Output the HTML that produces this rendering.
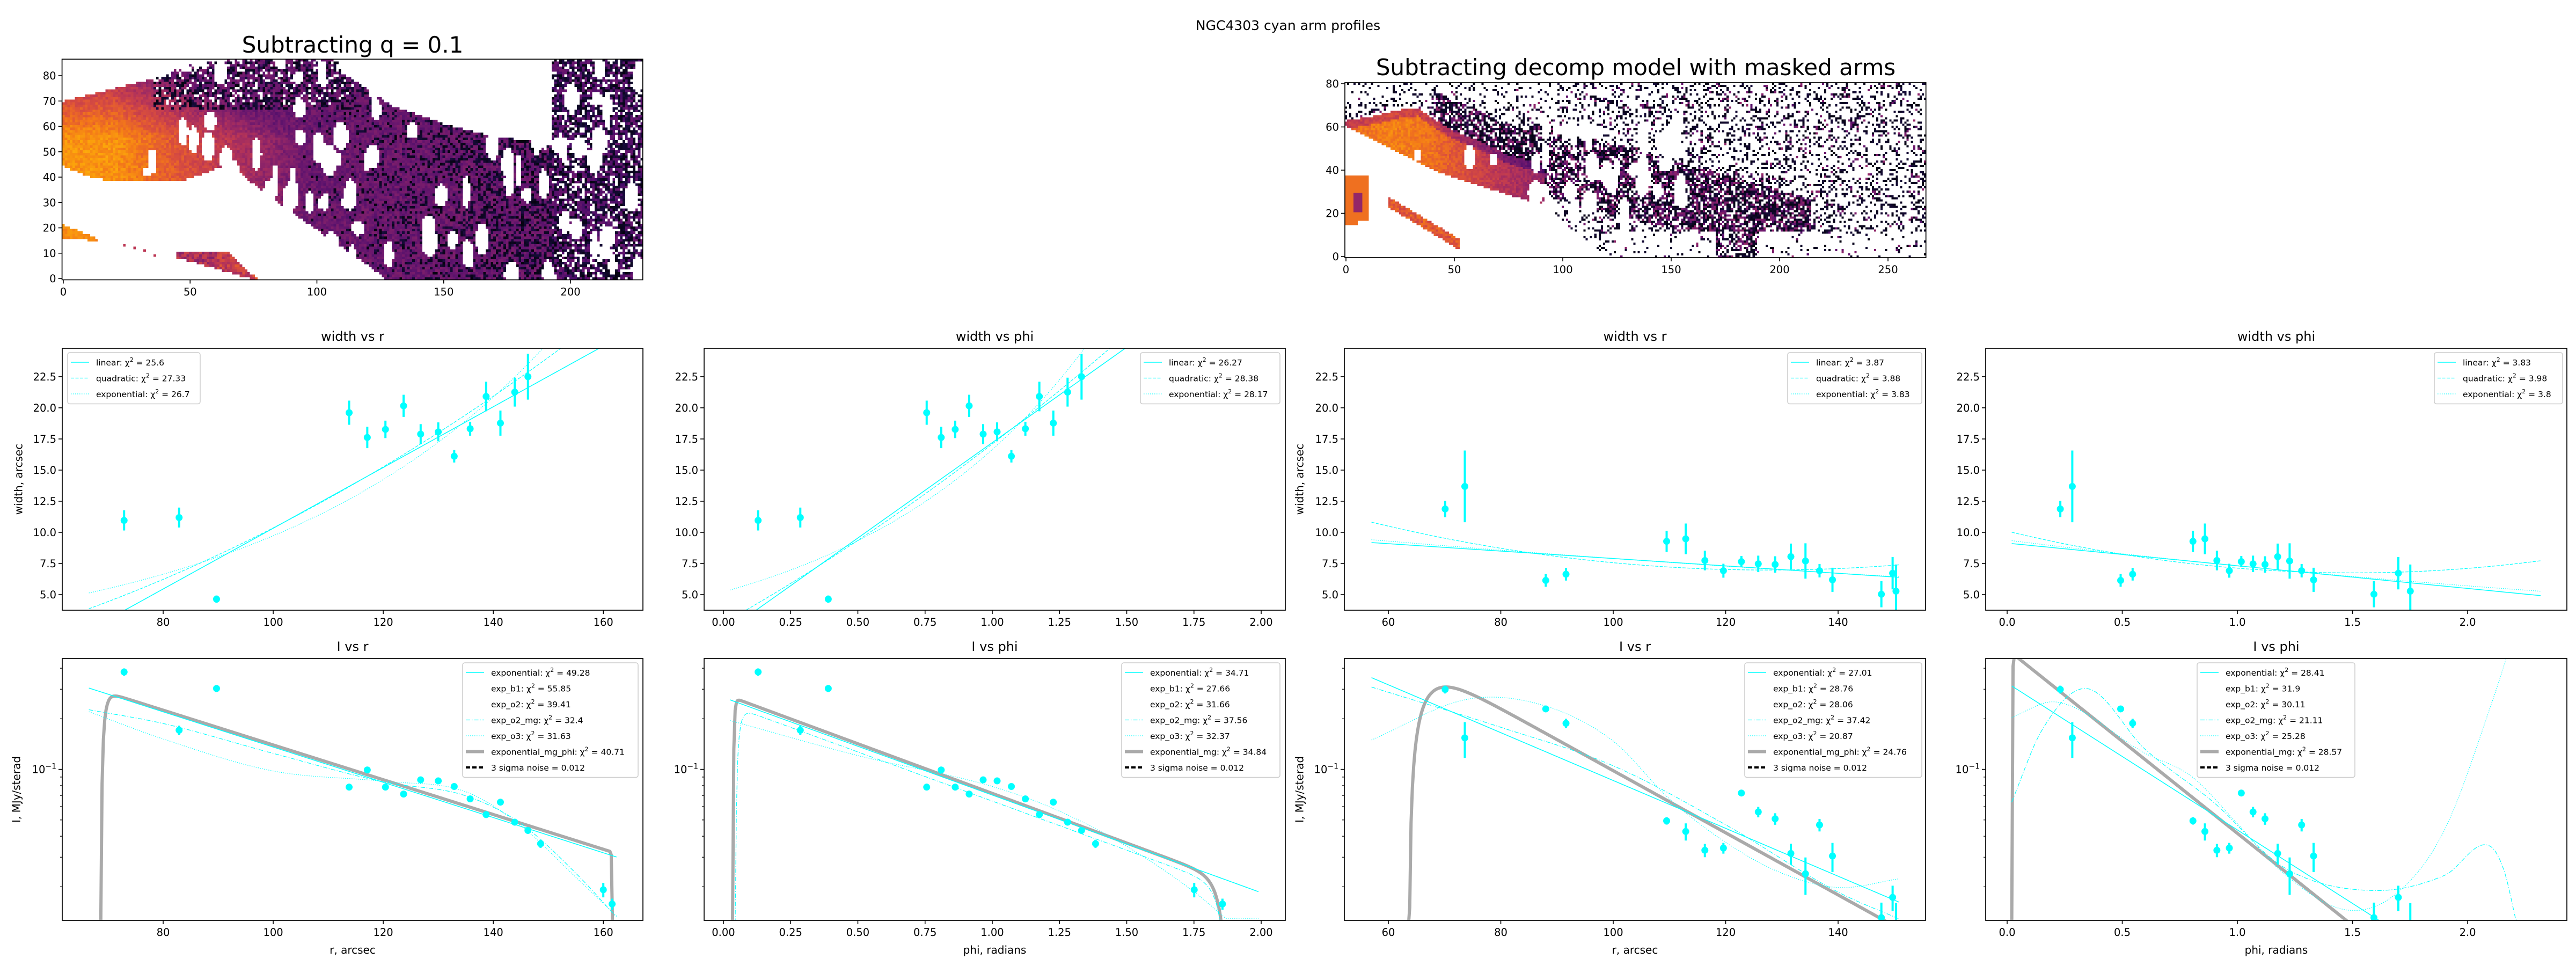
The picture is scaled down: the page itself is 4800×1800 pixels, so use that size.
<!DOCTYPE html>
<html><head><meta charset="utf-8">
<style>
html{margin:0;width:4800px;height:1800px;overflow:hidden}
body{margin:0;background:#fff;width:4800px;height:1800px;overflow:hidden;position:relative;font-family:"DejaVu Sans","Liberation Sans",sans-serif}
canvas{position:absolute;image-rendering:pixelated}
svg{position:absolute;left:0;top:0;overflow:hidden}
</style></head>
<body>
<canvas id="img1" width="229" height="87" style="left:115.6px;top:110.3px;width:1082.1px;height:411.1px"></canvas>
<canvas id="img2" width="268" height="81" style="left:2506px;top:154px;width:1082.7px;height:326px"></canvas>
<svg id="fig" width="4800" height="1800" viewBox="0 0 4800 1800" xmlns="http://www.w3.org/2000/svg">
<text x="2400" y="56" text-anchor="middle" font-size="25">NGC4303 cyan arm profiles</text>
<text x="657" y="98" text-anchor="middle" font-size="42">Subtracting q = 0.1</text>
<text x="3048" y="140" text-anchor="middle" font-size="42">Subtracting decomp model with masked arms</text>
</svg>
<script>
// ---------------- DATA ----------------
const widthR_L = [72.9,82.9,89.7,113.8,117.1,120.4,123.7,126.8,130.0,132.9,135.8,138.7,141.3,143.9,146.3];
const widthPhi_L = [0.129,0.286,0.390,0.756,0.810,0.862,0.914,0.966,1.018,1.071,1.123,1.175,1.227,1.280,1.332];
const width_L = [10.96,11.19,4.64,19.61,17.62,18.27,20.16,17.89,18.07,16.11,18.32,20.91,18.77,21.26,22.5];
const widthErr_L = [0.81,0.8,0.29,0.97,0.86,0.7,0.89,0.8,0.76,0.5,0.56,1.19,1.01,1.16,1.84];
const intR_L = [72.9,82.9,89.7,113.8,117.1,120.4,123.7,126.8,130.0,132.9,135.8,138.7,141.3,143.9,146.3,148.6,160.0,161.6];
const intPhi_L = [0.129,0.286,0.390,0.756,0.810,0.862,0.914,0.966,1.018,1.071,1.123,1.175,1.227,1.280,1.332,1.384,1.751,1.856];
const int_L = [0.380,0.171,0.303,0.0784,0.0992,0.0784,0.0713,0.0866,0.0854,0.0791,0.0667,0.0538,0.0638,0.0485,0.0433,0.0361,0.0192,0.0158];
const intErr_L = [0.019,0.011,0.014,0.002,0.003,0.002,0.002,0.002,0.002,0.002,0.002,0.002,0.002,0.002,0.002,0.002,0.0019,0.0012];
const r_R = [70.1,73.6,88.0,91.6,109.5,112.9,116.3,119.6,122.8,125.8,128.8,131.6,134.2,136.7,139.0,147.7,149.7,150.3];
const phi_R = [0.231,0.283,0.493,0.545,0.807,0.859,0.911,0.965,1.017,1.068,1.120,1.175,1.227,1.279,1.331,1.593,1.699,1.751];
const width_R = [11.88,13.69,6.14,6.64,9.28,9.48,7.74,6.92,7.65,7.47,7.42,8.05,7.70,6.92,6.19,5.03,6.72,5.28];
const widthErr_R = [0.66,2.88,0.51,0.51,0.85,1.23,0.79,0.56,0.45,0.66,0.66,1.05,1.42,0.54,0.97,1.05,1.30,2.14];
const int_R = [0.299,0.154,0.229,0.188,0.0494,0.0427,0.0330,0.0340,0.0723,0.0558,0.0508,0.0316,0.0239,0.0467,0.0305,0.0131,0.0173,0.0110];
const intErr_R = [0.016,0.037,0.01,0.012,0.0025,0.005,0.003,0.0025,0.003,0.004,0.004,0.0045,0.006,0.004,0.006,0.003,0.003,0.005];
const linA=[-14.06,0.2439], quadA=[18.0,0.2833,0.000956], quadA_c=[130], expA=[1.443,0.01908];
const linB=[1.886,15.32], quadB=[17.1,16.6,2.216], quadB_c=[1.0], expB=[5.22,1.160];
const linC=[10.875,-0.02974], quadC=[6.98,-0.0040,0.000771], quadC_c=[125], expC=[11.86,-0.00406];
const linD=[9.136,-1.82], quadD=[6.75,0.132,1.478], quadD_c=[1.55], expD=[9.38,-0.2487];
const iexpE=[1.519,-0.02415], mgE=[1.514,-0.02383,68.7,0.6,161.6,0.05];
const o2mgE_x=[66.5,80,100,120,135,145,155,162.5], o2mgE_v=[0.2265,0.1875,0.1245,0.0842,0.0696,0.0476,0.0241,0.0131];
const o3E_x=[66.5,80,100,120,135,145,155,162.5], o3E_v=[0.2203,0.1517,0.0978,0.0849,0.0736,0.0462,0.0228,0.0133];
const iexpF=[0.268,-1.338], mgF=[0.2805,-1.361,0.036,0.004,1.875,0.03], o2mgF=[0.249,-1.347,0.045,0.012,1.875,0.03];
const o3F_x=[0.024,0.5,1.0,1.25,1.5,1.75,1.87], o3F_v=[0.1954,0.1208,0.0791,0.0564,0.0348,0.0187,0.0129];
const iexpG=[2.279,-0.03279], mgG=[6.934,-0.04257,63.7,3.0,999,1];
const o2mgG_x=[57,80,100,120,140,150.8], o2mgG_v=[0.309,0.178,0.105,0.0468,0.0186,0.0129];
const o3G_x=[57,74.5,88,100,110,120,130,140,150.8], o3G_v=[0.1496,0.263,0.238,0.1472,0.0667,0.0368,0.0241,0.0198,0.0223];
const iexpH=[0.3266,-2.014], mgH=[0.5188,-2.523,0.022,0.002,999,1];
const o2mgH_x=[0.02,0.15,0.341,0.6,0.9,1.2,1.593,1.9,2.099,2.16,2.21], o2mgH_v=[0.064,0.170,0.303,0.1315,0.0631,0.0262,0.0190,0.0234,0.0348,0.0245,0.0126];
const o3H_x=[0.02,0.21,0.6,0.8,1.0,1.2,1.485,1.7,1.9,2.1,2.2], o3H_v=[0.204,0.252,0.1245,0.091,0.0475,0.0241,0.0145,0.0187,0.0437,0.238,0.63];
const noise3sigma=[0.012];
const chiWidth=[["25.6","27.33","26.7"],["26.27","28.38","28.17"],["3.87","3.88","3.83"],["3.83","3.98","3.8"]];
const chiInt=[["49.28","55.85","39.41","32.4","31.63","40.71"],["34.71","27.66","31.66","37.56","32.37","34.84"],["27.01","28.76","28.06","37.42","20.87","24.76"],["28.41","31.9","30.11","21.11","25.28","28.57"]];
const ticksR_L=[80,100,120,140,160], ticksPhi_L=[0,0.25,0.5,0.75,1.0,1.25,1.5,1.75,2.0];
const ticksR_R=[60,80,100,120,140], ticksPhi_R=[0,0.5,1.0,1.5,2.0];
const ticksWidth=[5,7.5,10,12.5,15,17.5,20,22.5];
const ticksLogMinor=[0.02,0.03,0.04,0.05,0.06,0.07,0.08,0.09,0.2,0.3,0.4];

// ---------------- HELPERS ----------------
const NS='http://www.w3.org/2000/svg';
const svg=document.getElementById('fig');
function mk(tag,attrs,parent){const e=document.createElementNS(NS,tag);for(const k in attrs)e.setAttribute(k,attrs[k]);(parent||svg).appendChild(e);return e;}
const CY='#00ffff';
let clipId=0;
function setupAxes(cfg){
  cfg.sx=v=>cfg.left+(v-cfg.xmin)/(cfg.xmax-cfg.xmin)*(cfg.right-cfg.left);
  if(cfg.log){const a=Math.log10(cfg.ymin),b=Math.log10(cfg.ymax);
    cfg.sy=v=>v<=0?cfg.bottom+10:cfg.bottom-(Math.log10(v)-a)/(b-a)*(cfg.bottom-cfg.top);}
  else cfg.sy=v=>cfg.bottom-(v-cfg.ymin)/(cfg.ymax-cfg.ymin)*(cfg.bottom-cfg.top);
  const id='clip'+(clipId++);
  const cp=mk('clipPath',{id:id});
  mk('rect',{x:cfg.left,y:cfg.top,width:cfg.right-cfg.left,height:cfg.bottom-cfg.top},cp);
  cfg.g=mk('g',{});
  
  
  cfg.plot=mk('g',{'clip-path':'url(#'+id+')'},cfg.g);
  
  
  return cfg;
}
function frame(cfg){
  const f=mk('rect',{x:cfg.left,y:cfg.top,width:cfg.right-cfg.left,height:cfg.bottom-cfg.top,fill:'none',stroke:'#000','stroke-width':1.7},cfg.g);
  
  
}
function xTicks(cfg,ticks,dec){
  const g=mk('g',{},cfg.g);
  
  
  ticks.forEach(t=>{const x=cfg.sx(t);
    mk('line',{x1:x,x2:x,y1:cfg.bottom,y2:cfg.bottom+7,stroke:'#000','stroke-width':1.6},g);
    const tx=mk('text',{x:x,y:cfg.bottom+29,'text-anchor':'middle','font-size':19.5},g);
    
    
    tx.textContent=t.toFixed(dec);});
}
function yTicks(cfg,ticks,dec){
  const g=mk('g',{},cfg.g);
  
  
  ticks.forEach(t=>{const y=cfg.sy(t);
    mk('line',{x1:cfg.left-7,x2:cfg.left,y1:y,y2:y,stroke:'#000','stroke-width':1.6},g);
    const tx=mk('text',{x:cfg.left-11,y:y+7,'text-anchor':'end','font-size':19.5},g);
    
    
    tx.textContent=t.toFixed(dec);});
}
function logTicks(cfg){
  const g=mk('g',{},cfg.g);
  
  
  ticksLogMinor.forEach(t=>{const y=cfg.sy(t);
    mk('line',{x1:cfg.left-4,x2:cfg.left,y1:y,y2:y,stroke:'#000','stroke-width':1.2},g);});
  const y=cfg.sy(0.1);
  mk('line',{x1:cfg.left-7,x2:cfg.left,y1:y,y2:y,stroke:'#000','stroke-width':1.6},g);
  const tx=mk('text',{x:cfg.left-11,y:y+7,'text-anchor':'end','font-size':19.5},g);
  
  
  tx.innerHTML='10<tspan dy="-8" font-size="14">−1</tspan>';
}
function title(cfg,txt,y){
  const t=mk('text',{x:(cfg.left+cfg.right)/2,y:y,'text-anchor':'middle','font-size':24},cfg.g);
  
  
  t.textContent=txt;
}
function yLabel(cfg,txt,x){
  const cy=(cfg.top+cfg.bottom)/2;
  const t=mk('text',{x:x,y:cy,'text-anchor':'middle','font-size':20,transform:'rotate(-90 '+x+' '+cy+')','dominant-baseline':'middle'},cfg.g);
  
  
  t.textContent=txt;
}
function xLabel(cfg,txt){
  const t=mk('text',{x:(cfg.left+cfg.right)/2,y:cfg.bottom+62,'text-anchor':'middle','font-size':20},cfg.g);
  
  
  t.textContent=txt;
}
const STY={solid:{w:1.5,d:''},dashed:{w:1.2,d:'6,2.5'},dotted:{w:1.2,d:'1.5,2.5'},dashdot:{w:1.2,d:'8,3,1.5,3'}};
function curve(cfg,fn,xa,xb,style,name,color,width){
  let d='';const N=400;
  for(let i=0;i<=N;i++){const x=xa+(xb-xa)*i/N;let v=fn(x);
    let y=cfg.sy(v); if(!isFinite(y)) y=cfg.bottom+10; y=Math.max(cfg.top-10,Math.min(cfg.bottom+10,y));
    d+=(i?'L':'M')+cfg.sx(x).toFixed(2)+','+y.toFixed(2);}
  const s=STY[style]||{w:width,d:''};
  const p=mk('path',{d:d,fill:'none',stroke:color||CY,'stroke-width':width||s.w,'stroke-dasharray':s.d,'stroke-linejoin':'round'},cfg.plot);
  
  
  return p;
}
function points(cfg,xs,ys,errs){
  const g=mk('g',{},cfg.plot);
  
  
  xs.forEach((x,i)=>{
    const px=cfg.sx(x);
    let lo=ys[i]-errs[i]; const y1=cfg.sy(ys[i]+errs[i]), y2=lo>0?cfg.sy(lo):cfg.bottom+5;
    const eb=mk('line',{x1:px,x2:px,y1:Math.max(cfg.top-5,y1),y2:Math.min(y2,cfg.bottom+5),stroke:CY,'stroke-width':4},g);
    
    
    const c=mk('circle',{cx:px,cy:Math.min(cfg.bottom+8,cfg.sy(ys[i])),r:6.5,fill:CY},g);
    
    
  });
}
function legend(cfg,left,top,width,entries){
  const h=entries.length*29.5+7;
  const g=mk('g',{},cfg.g);
  
  
  mk('rect',{x:left,y:top,width:width,height:h,rx:4,fill:'#fff','fill-opacity':0.8,stroke:'#cccccc','stroke-width':1.5},g);
  entries.forEach((e,i)=>{
    const cy=top+18+i*29.5;
    const [lab,chi,sty]=e;
    if(sty==='gray') mk('line',{x1:left+6,x2:left+40,y1:cy,y2:cy,stroke:'#aaaaaa','stroke-width':6},g);
    else if(sty==='noise') mk('line',{x1:left+6,x2:left+40,y1:cy,y2:cy,stroke:'#000','stroke-width':4,'stroke-dasharray':'8,4'},g);
    else if(sty!=='none'){const s=STY[sty];mk('line',{x1:left+6,x2:left+40,y1:cy,y2:cy,stroke:CY,'stroke-width':s.w,'stroke-dasharray':s.d},g);}
    const t=mk('text',{x:left+53,y:cy+6,'font-size':15.5},g);
    
    
    if(sty==='noise') t.textContent=lab;
    else t.innerHTML=lab+': χ<tspan dy="-7" font-size="11">2</tspan><tspan dy="7"> = '+chi+'</tspan>';
  });
}
function hermite(xs,vs){
  const L=vs.map(v=>Math.log10(v)); const n=xs.length; const m=[];
  for(let i=0;i<n;i++){
    if(i===0) m.push((L[1]-L[0])/(xs[1]-xs[0]));
    else if(i===n-1) m.push((L[n-1]-L[n-2])/(xs[n-1]-xs[n-2]));
    else m.push(((L[i+1]-L[i])/(xs[i+1]-xs[i])+(L[i]-L[i-1])/(xs[i]-xs[i-1]))/2);
  }
  return x=>{let i=0;while(i<n-2&&x>xs[i+1])i++;const h=xs[i+1]-xs[i];let t=(x-xs[i])/h;t=Math.max(0,Math.min(1,t));
    const t2=t*t,t3=t2*t;
    const y=(2*t3-3*t2+1)*L[i]+(t3-2*t2+t)*h*m[i]+(-2*t3+3*t2)*L[i+1]+(t3-t2)*h*m[i+1];
    return Math.pow(10,y);};
}
function mgFn(p){return x=>{const[A,k,rb,tau,re,te]=p;
  const a=x>rb?1-Math.exp(-(x-rb)/tau):0, b=x<re?1-Math.exp(-(re-x)/te):0;
  return Math.max(1e-6,A*Math.exp(k*x)*a*b);};}

// ---------------- PANELS ----------------
const cols=[{l:116,r:1198},{l:1312,r:2395},{l:2505,r:3588},{l:3700,r:4783}];
const xr=[[61.66,167.2],[-0.0718,2.0898],[52.17,155.56],[-0.0932,2.431]];
const fitRange=[[66.5,162.4],[0.024,1.99],[57.0,150.8],[0.02,2.317]];
const widthX=[widthR_L,widthPhi_L,r_R,phi_R];
const widthY=[width_L,width_L,width_R,width_R];
const widthE=[widthErr_L,widthErr_L,widthErr_R,widthErr_R];
const intX=[intR_L,intPhi_L,r_R,phi_R];
const intY=[int_L,int_L,int_R,int_R];
const intE=[intErr_L,intErr_L,intErr_R,intErr_R];
const linF=[linA,linB,linC,linD], quadF=[quadA,quadB,quadC,quadD], quadCtr=[quadA_c,quadB_c,quadC_c,quadD_c], expF=[expA,expB,expC,expD];
const xTickSets=[[ticksR_L,0],[ticksPhi_L,2],[ticksR_R,0],[ticksPhi_R,1]];
const wTitles=['width vs r','width vs phi','width vs r','width vs phi'];
const iTitles=['I vs r','I vs phi','I vs r','I vs phi'];
const wLeg=[[126,247],[2125,260],[3331,250],[4536,239]];
const iLeg=[[862,327],[2090,295],[3251,330],[4094,294]];
const mgLabel=['exponential_mg_phi','exponential_mg','exponential_mg_phi','exponential_mg'];

for(let c=0;c<4;c++){
  const W=setupAxes({name:'width-panel-'+(c+1),left:cols[c].l,right:cols[c].r,top:649,bottom:1137,xmin:xr[c][0],xmax:xr[c][1],ymin:3.75,ymax:24.78,log:false});
  const [xa,xb]=fitRange[c];
  const lin=linF[c],qd=quadF[c],qc=quadCtr[c][0],ex=expF[c];
  curve(W,x=>lin[0]+lin[1]*x,xa,xb,'solid','linear-fit');
  curve(W,x=>qd[0]+qd[1]*(x-qc)+qd[2]*(x-qc)*(x-qc),xa,xb,'dashed','quadratic-fit');
  curve(W,x=>ex[0]*Math.exp(ex[1]*x),xa,xb,'dotted','exponential-fit');
  points(W,widthX[c],widthY[c],widthE[c]);
  frame(W);
  xTicks(W,xTickSets[c][0],xTickSets[c][1]);
  yTicks(W,ticksWidth,1);
  title(W,wTitles[c],635);
  if(c===0) yLabel(W,'width, arcsec',36);
  if(c===2) yLabel(W,'width, arcsec',2423);
  legend(W,wLeg[c][0],657,wLeg[c][1],[['linear',chiWidth[c][0],'solid'],['quadratic',chiWidth[c][1],'dashed'],['exponential',chiWidth[c][2],'dotted']]);

  const I=setupAxes({name:'intensity-panel-'+(c+1),left:cols[c].l,right:cols[c].r,top:1227,bottom:1715,xmin:xr[c][0],xmax:xr[c][1],ymin:0.01262,ymax:0.4571,log:true});
  let ie,mg,o2,o3;
  if(c===0){ie=iexpE;mg=mgFn(mgE);o2=hermite(o2mgE_x,o2mgE_v);o3=hermite(o3E_x,o3E_v);}
  if(c===1){ie=iexpF;mg=mgFn(mgF);o2=mgFn(o2mgF);o3=hermite(o3F_x,o3F_v);}
  if(c===2){ie=iexpG;mg=mgFn(mgG);o2=hermite(o2mgG_x,o2mgG_v);o3=hermite(o3G_x,o3G_v);}
  if(c===3){ie=iexpH;mg=mgFn(mgH);o2=hermite(o2mgH_x,o2mgH_v);o3=hermite(o3H_x,o3H_v);}
  curve(I,mg,xa,xb,'gray','exponential-mg-fit','#aaaaaa',6);
  curve(I,x=>ie[0]*Math.exp(ie[1]*x),xa,xb,'solid','exponential-fit');
  curve(I,o2,xa,xb,'dashdot','exp-o2-mg-fit');
  curve(I,o3,xa,xb,'dotted','exp-o3-fit');
  const ny=Math.min(I.bottom+5,I.sy(noise3sigma[0]));
  const nl=mk('line',{x1:I.left,x2:I.right,y1:ny,y2:ny,stroke:'#000','stroke-width':3,'stroke-dasharray':'8,4'},I.plot);
  
  
  points(I,intX[c],intY[c],intE[c]);
  frame(I);
  xTicks(I,xTickSets[c][0],xTickSets[c][1]);
  logTicks(I);
  title(I,iTitles[c],1213);
  xLabel(I,(c%2===0)?'r, arcsec':'phi, radians');
  if(c===0) yLabel(I,'I, MJy/sterad',32);
  if(c===2) yLabel(I,'I, MJy/sterad',2423);
  const ch=chiInt[c];
  legend(I,iLeg[c][0],1235,iLeg[c][1],[['exponential',ch[0],'solid'],['exp_b1',ch[1],'none'],['exp_o2',ch[2],'none'],['exp_o2_mg',ch[3],'dashdot'],['exp_o3',ch[4],'dotted'],[mgLabel[c],ch[5],'gray'],['3 sigma noise = 0.012','','noise']]);
}

function imgAxes(name,left,right,top,bottom,xmin,xmax,ymin,ymax,xt,yt){
  const A=setupAxes({name:name,left:left,right:right,top:top,bottom:bottom,xmin:xmin,xmax:xmax,ymin:ymin,ymax:ymax,log:false});
  frame(A);xTicks(A,xt,0);yTicks(A,yt,0);
}
imgAxes('image1-axes',115.6,1197.7,110.3,521.4,-0.5,228.5,-0.5,86.5,[0,50,100,150,200],[0,10,20,30,40,50,60,70,80]);
imgAxes('image2-axes',2506,3588.7,154,480,-0.5,267.5,-0.5,80.5,[0,50,100,150,200,250],[0,20,40,60,80]);

// ---------------- HEATMAP TEXTURES ----------------
function inferno(t){const s=[[0,0,4],[22,11,57],[66,10,104],[106,23,110],[147,38,103],[188,55,84],[221,81,58],[243,120,25],[252,165,10],[246,215,70],[252,255,164]];
  t=Math.max(0,Math.min(0.999,t))*10;const i=Math.floor(t),f=t-i;return s[i].map((v,k)=>Math.round(v+(s[i+1][k]-v)*f));}
function hash(a,b,c){let h=Math.imul(a+1,374761393)^Math.imul(b+7,668265263)^Math.imul(c+3,1274126177);h=Math.imul(h^(h>>>13),1274126177);h^=h>>>16;return (h>>>0)/4294967296;}
function pl(p,x){if(x<=p[0][0])return p[0][1];for(let i=1;i<p.length;i++)if(x<=p[i][0]){const a=p[i-1],b=p[i];return a[1]+(b[1]-a[1])*(x-a[0])/(b[0]-a[0]);}return p[p.length-1][1];}
function inBlob(bl,x,y){for(const b of bl){const dx=(x-b[0])/b[2],dy=(y-b[1])/b[3];if(dx*dx+dy*dy<1)return true;}return false;}
(function(){
  const cv=document.getElementById('img1'),ctx=cv.getContext('2d');const nx=229,ny=87;
  const im=ctx.createImageData(nx,ny);
  const U1=[[0,70],[20,75],[40,80],[60,85],[75,88],[105,88],[110,81],[130,68],[150,61],[170,56],[192,53]];
  const L1=[[0,44],[10,40],[20,38],[45,38],[55,41],[65,45],[80,33],[100,19],[120,5],[128,-1]];
  const blobs=[[35,46,2,5],[57,52,2.5,6],[33,42,1.5,2]];
  for(let k=0;k<95;k++){blobs.push([45+hash(k,1,7)*184,hash(k,2,7)*86,1.3+hash(k,3,7)*1.8,2.5+hash(k,4,7)*4]);}
  for(let j=0;j<ny;j++)for(let i=0;i<nx;i++){
    const x=i,y=j;let col=[255,255,255];
    const U=x>=193?99:pl(U1,x)+((x>40&&x<110)?(hash(i,j,3)-0.5)*5:0);
    const Lo=x>=193?-1:pl(L1,x);
    let inside=y<U&&y>Lo, t=0;
    if(inside){
      t=Math.max(0.3,0.76-0.006*Math.max(0,x-20)-0.012*Math.max(0,y-55))+(hash(i,j,5)-0.5)*0.1;
      if(x>=193)t=0.26+(hash(i,j,5)-0.5)*0.1;
      let pd=(x>=193?0.5:Math.max(0,(x-90)/220))+((y>66&&x>35&&x<115)?0.4:0);
      if(hash(i,j,6)<pd)t=0.02+hash(i,j,8)*0.1;
      let pw=x>=193?0.2:((y>68&&x>35&&x<115)?0.15:0);
      if(hash(i,j,9)<pw||inBlob(blobs,x,y))inside=false;
    }
    if(!inside&&x<=13&&y>=16-x*0.1&&y<=21-x*0.4){inside=true;t=0.74+(hash(i,j,11)-0.5)*0.08;}
    if(!inside&&x>=45&&x<=76&&y<=Math.min(10,10-(x-65)*0.9)&&y>=Math.max(0,8-(x-45)*0.28)){inside=true;t=0.45+(hash(i,j,12)-0.5)*0.2+(x>60?0.08:0);}
    if(!inside&&y===Math.round(13-(x-24)*0.3)&&x>=24&&x<40&&x%4===0){inside=true;t=0.5;}
    if(inside)col=inferno(t);
    const o=((ny-1-j)*nx+i)*4;im.data[o]=col[0];im.data[o+1]=col[1];im.data[o+2]=col[2];im.data[o+3]=255;
  }
  ctx.putImageData(im,0,0);
})();
(function(){
  const cv=document.getElementById('img2'),ctx=cv.getContext('2d');const nx=268,ny=81;
  const im=ctx.createImageData(nx,ny);
  const U2=[[0,63],[12,65],[25,68],[33,69],[40,64],[50,58],[60,54],[75,47],[92,42]];
  const L2=[[0,60],[20,50],[40,40],[60,33],[80,27],[90,24],[100,16],[110,8],[121,-1]];
  const T2=[[0,0.66],[20,0.72],[40,0.68],[60,0.55],[80,0.45],[92,0.4]];
  const blobs=[[33,47,1.5,3],[57,46,2.5,6],[68,45,1.5,3]];
  for(let k=0;k<40;k++){blobs.push([85+hash(k,5,9)*70,20+hash(k,6,9)*40,1.5+hash(k,7,9)*2,3+hash(k,8,9)*4]);}
  for(let j=0;j<ny;j++)for(let i=0;i<nx;i++){
    const x=i,y=j;let col=[255,255,255],on=false,t=0;
    const lo=pl(L2,x);
    if(x<92&&y>lo&&y<pl(U2,x)){
      on=true;t=pl(T2,x)+(hash(i,j,2)-0.5)*0.1-((pl(U2,x)-y<4)?0.15:0);
      if(inBlob(blobs,x,y))on=false;
    } else if(y>lo||x>=121){
      let p=0.25,q=0.15;
      if(x<100&&y>70)p=0.15;
      const cl=45-(x-90)*0.273;
      if(Math.abs(y-cl)<16&&x>85&&x<215){p=0.75;q=0.4;}
      if(x>=40&&x<100&&y>=pl(U2,x)&&y<pl(U2,x)+14){p=0.7;q=0.3;}
      if(y<12&&x>120){p=(x>170&&x<190)?0.55:0.08;}
      if(hash(i,j,4)<p&&!inBlob(blobs,x,y)){on=true;t=hash(i,j,5)<q?0.25+hash(i,j,6)*0.15:0.02+hash(i,j,7)*0.08;}
    }
    if(!on&&x<=10&&y>=15&&y<=37&&(x<=5||y>=17)){on=true;t=(x>3&&x<8&&y>20&&y<30)?0.4:0.68;}
    if(!on&&x>=20&&x<=52&&Math.abs(y-(25-(x-20)*0.6))<2.5){on=true;t=0.62+(hash(i,j,8)-0.5)*0.15;}
    if(on)col=inferno(t);
    const o=((ny-1-j)*nx+i)*4;im.data[o]=col[0];im.data[o+1]=col[1];im.data[o+2]=col[2];im.data[o+3]=255;
  }
  ctx.putImageData(im,0,0);
})();
</script>
</body></html>
